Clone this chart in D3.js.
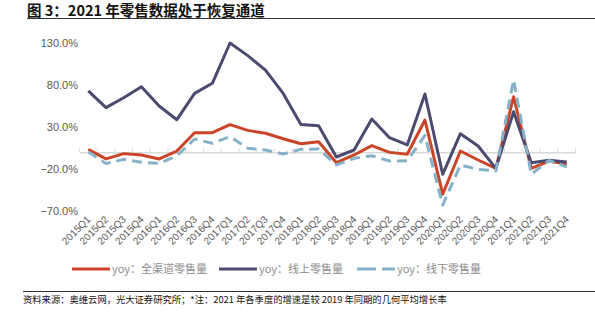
<!DOCTYPE html>
<html><head><meta charset="utf-8">
<script src="https://cdn.jsdelivr.net/npm/d3@7"></script>
<style>
body{margin:0;background:#fff;}
svg{display:block;font-family:"Noto Sans CJK SC","Noto Sans",sans-serif;}
</style></head>
<body>
<svg id="c" width="595" height="324"></svg>
<script>
const categories = ["2015Q1","2015Q2","2015Q3","2015Q4","2016Q1","2016Q2","2016Q3","2016Q4","2017Q1","2017Q2","2017Q3","2017Q4","2018Q1","2018Q2","2018Q3","2018Q4","2019Q1","2019Q2","2019Q3","2019Q4","2020Q1","2020Q2","2020Q3","2020Q4","2021Q1","2021Q2","2021Q3","2021Q4"];
const totalYoy   = [3.4,-8,-1.7,-3.3,-8,1.4,23.2,23.2,32.8,26,22.5,16,10.1,12.5,-12.5,-3.3,7.8,-0.2,-2.5,38.3,-50,1.4,-9.3,-19.2,66,-19.2,-10.5,-14.5];
const onlineYoy  = [72.9,53,64.9,78,55,38.7,70,82,130,115,97.8,70,33,31.6,-5.7,2.6,39.5,17.3,8.6,69.3,-26.3,22,7.4,-19.2,48.2,-12.5,-9.7,-11.7];
const offlineYoy = [0.6,-13.6,-8.5,-12,-13.3,-4.2,15.7,10.6,18.5,4.6,2.6,-2.1,3.4,3.8,-15.2,-7.3,-4.2,-10.5,-10.1,20,-63,-15.2,-20.4,-22.4,86,-26.3,-9.7,-17.6];
const yTicks = [-70,-20,30,80,130];
const seriesNames = ["yoy：全渠道零售量","yoy：线上零售量","yoy：线下零售量"];
const title = "图 3：2021 年零售数据处于恢复通道";
const source = "资料来源：奥维云网，光大证券研究所；*注：2021 年各季度的增速是较 2019 年同期的几何平均增长率";

const svg = d3.select("#c");
const colors = ["#cc4428","#4b4a6f","#86b2c9"];
const dashes = [null,null,"10,6"];

// title
svg.append("text").attr("x",27).attr("y",15.5).attr("font-size",14.5).attr("font-weight","bold").attr("fill","#111").text(title);
svg.append("line").attr("x1",27).attr("x2",595).attr("y1",18.5).attr("y2",18.5).attr("stroke","#333").attr("stroke-width",1);

const x = d3.scaleBand().domain(categories).range([79.4,575.6]);
const y = d3.scaleLinear().domain([-70,130]).range([211,43]);

// y labels
const yAxis = d3.axisLeft(y).tickValues(yTicks).tickSize(0).tickPadding(0).tickFormat(d=>d3.format(".1f")(d)+"%");
const ya = svg.append("g").attr("transform","translate(78,0)").call(yAxis);
ya.select(".domain").remove();
ya.selectAll("text").attr("font-size",11).attr("fill","#595959").attr("font-family","Liberation Sans, Arial, sans-serif");

// zero axis
const xAxis = d3.axisTop(x).tickSize(0).tickFormat("");
const xa = svg.append("g").attr("transform",`translate(0,${y(0)})`).call(xAxis);
xa.select(".domain").attr("stroke","#d9d9d9").attr("stroke-width",1.5);
xa.selectAll(".tick").remove();
const boundaries = categories.map(c=>x(c)).concat([x.range()[1]]);
xa.selectAll("line.tk").data(boundaries).enter().append("line").attr("class","tk")
  .attr("x1",d=>d).attr("x2",d=>d).attr("y1",0).attr("y2",-4).attr("stroke","#d9d9d9").attr("stroke-width",1);

// x labels
svg.append("g").selectAll("text").data(categories).enter().append("text")
  .attr("transform",d=>`translate(${x(d)+x.bandwidth()/2+3},220) rotate(-45)`)
  .attr("text-anchor","end").attr("font-size",10).attr("fill","#595959")
  .attr("font-family","Liberation Sans, Arial, sans-serif").text(d=>d);

// lines
const line = d3.line().x((d,i)=>x(categories[i])+x.bandwidth()/2).y(d=>y(d));
[totalYoy,onlineYoy,offlineYoy].forEach((s,k)=>{
  const p = svg.append("path").datum(s).attr("d",line).attr("fill","none")
    .attr("stroke",colors[k]).attr("stroke-width",3).attr("stroke-linejoin","round");
  if(dashes[k]) p.attr("stroke-dasharray",dashes[k]);
});
svg.selectAll("path").filter(function(){return d3.select(this).attr("stroke")===colors[2];}).raise();

// legend
const lg = [{x:72,k:0},{x:219,k:1},{x:357,k:2}];
lg.forEach(o=>{
  const l = svg.append("line").attr("x1",o.x).attr("x2",o.x+38).attr("y1",269).attr("y2",269)
    .attr("stroke",colors[o.k]).attr("stroke-width",3);
  if(dashes[o.k]) l.attr("stroke-dasharray","19,6");
  svg.append("text").attr("x",o.x+40).attr("y",273).attr("font-size",11).attr("fill","#8c8c8c").text(seriesNames[o.k]);
});

// source
svg.append("line").attr("x1",23).attr("x2",595).attr("y1",291.5).attr("y2",291.5).attr("stroke","#333").attr("stroke-width",1);
svg.append("text").attr("x",23).attr("y",303).attr("font-size",9.3).attr("fill","#111").text(source);
</script>
</body></html>
